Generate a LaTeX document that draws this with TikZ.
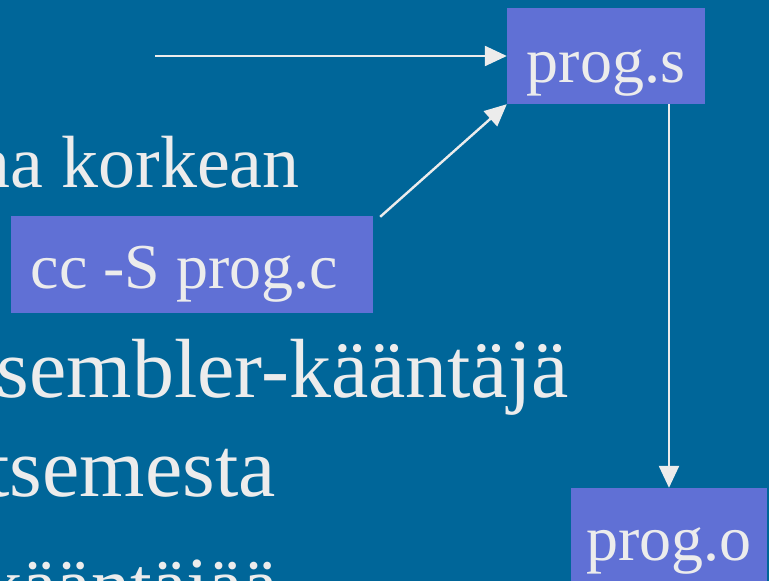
\documentclass[tikz,border=0pt]{standalone}
\usepackage{fontspec}
\setmainfont{Liberation Serif}
\usetikzlibrary{arrows.meta}
\definecolor{bgblue}{RGB}{0,102,153}
\definecolor{boxblue}{RGB}{96,112,213}
\definecolor{fgtext}{RGB}{236,236,236}
\tikzset{
  slidetext/.style={anchor=base east, inner sep=0pt, text=fgtext},
  filebox/.style={fill=boxblue, draw=none, inner sep=0pt, text=fgtext,
    font=\fontsize{64}{70}\selectfont},
  flow/.style={draw=fgtext, line width=2.4pt, -{Triangle[length=22pt,width=20pt]}}
}
\begin{document}
\begin{tikzpicture}[x=1pt,y=-1pt]
\useasboundingbox (0,0) rectangle (769,581);
\clip (0,0) rectangle (769,581);
\fill[bgblue] (0,0) rectangle (769,581);
% background slide text (cut off at the left)
\node[slidetext, font=\fontsize{74}{80}\selectfont] (t1) at (300,187) {na korkean};
\node[slidetext, font=\fontsize{84}{90}\selectfont] (t2) at (569,397) {sembler-kääntäjä};
\node[slidetext, font=\fontsize{84}{90}\selectfont] (t3) at (276,496) {tsemesta};
\node[slidetext, font=\fontsize{78}{84}\selectfont] (t4) at (278,611) {kääntäjää};
% file boxes
\node[filebox, minimum width=198pt, text height=74pt, text depth=22pt] (progs) at (606,56) {prog.s};
\node[filebox, minimum width=362pt, text height=72pt, text depth=25pt] (cc) at (192,264.5) {cc -S prog.c\hspace*{15pt}};
\node[filebox, minimum width=196pt, text height=72pt, text depth=24pt] (progo) at (669,536) {prog.o};
% connectors
\coordinate (src) at (155,56);
\draw[flow] (src) -- (progs.west);
\draw[flow] ([shift={(7pt,-1pt)}]cc.north east) -- (progs.south west);
\draw[flow] (progo.north |- progs.south) -- (progo.north);
\end{tikzpicture}
\end{document}
